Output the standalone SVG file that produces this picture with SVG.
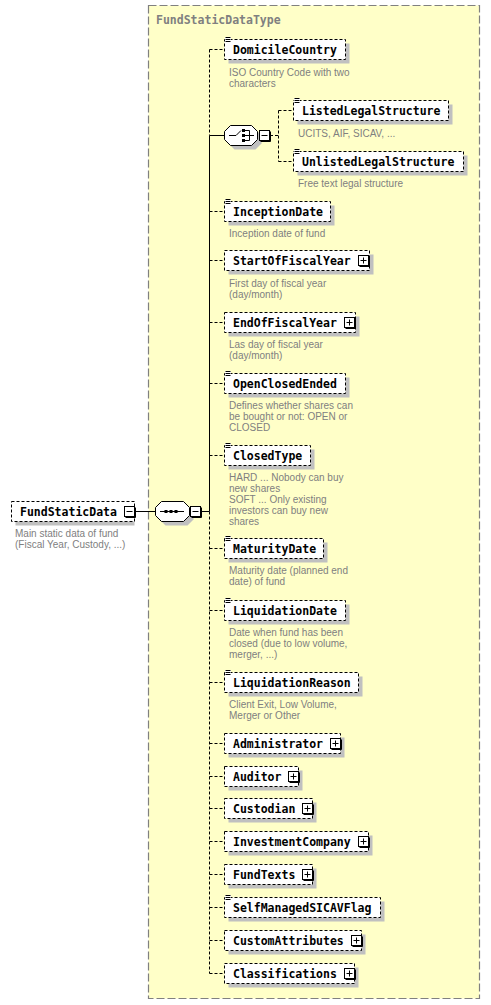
<svg xmlns="http://www.w3.org/2000/svg" width="491" height="1005" viewBox="0 0 491 1005">
<defs>
<style>
.type{fill:#ffffc8;stroke:#808080;stroke-width:1.2;stroke-dasharray:8 3}
.title{font-family:"DejaVu Sans Mono","Liberation Mono",monospace;font-weight:bold;font-size:11.5px;fill:#808080}
.el{fill:#fff;stroke:#000;stroke-width:1;stroke-dasharray:3 2}
.sh{fill:#c0c0c0}
.lbl{font-family:"DejaVu Sans Mono","Liberation Mono",monospace;font-weight:bold;font-size:11.5px;fill:#000}
.desc{font-family:"Liberation Sans",Arial,sans-serif;font-size:10px;fill:#808080}
.btn{fill:#fff;stroke:#000;stroke-width:1}
.sym{stroke:#000;stroke-width:1;fill:none}
.solid{stroke:#000;stroke-width:1;fill:none}
.dash{stroke:#000;stroke-width:1;fill:none;stroke-dasharray:3 2}
.ann{stroke:#000;stroke-width:1}
</style>
<g id="plus">
<rect x="0" y="0" width="10" height="10" class="btn"/>
<path d="M11,1V11H1" class="sym"/>
<path d="M2,5H8M5,2V8" class="sym"/>
</g>
<g id="minus">
<rect x="0" y="0" width="10" height="10" class="btn"/>
<path d="M11,1V11H1" class="sym"/>
<path d="M2,5H8" class="sym"/>
</g>
<g id="annIcon">
<rect x="0" y="-3" width="6" height="6" fill="#fff"/>
<path d="M0.5,-2.5H5.5M0.5,-0.5H5.5M0.5,1.5H5.5" class="ann"/>
</g>
</defs>
<rect x="0" y="0" width="491" height="1005" fill="#fff"/>

<g id="FundStaticDataType">
<rect x="148.5" y="5.5" width="331" height="993" class="type"/>
<text x="156" y="24" class="title">FundStaticDataType</text>
</g>

<g id="connectors">
<line x1="134" y1="511.5" x2="155.5" y2="511.5" class="solid"/>
<line x1="201" y1="511.5" x2="209.5" y2="511.5" class="solid"/>
<line x1="209.5" y1="49.5" x2="209.5" y2="135.5" class="dash"/>
<line x1="209.5" y1="135.5" x2="209.5" y2="511.5" class="solid"/>
<line x1="209.5" y1="511.5" x2="209.5" y2="973.5" class="dash"/>
<line x1="209.5" y1="135.5" x2="224.5" y2="135.5" class="solid"/>
<path class="dash" d="M209.5,49.5H224.5M209.5,211.5H224.5M209.5,260.5H224.5M209.5,322.5H224.5M209.5,383.5H224.5M209.5,455.5H224.5M209.5,548.5H224.5M209.5,610.5H224.5M209.5,682.5H224.5M209.5,743.5H224.5M209.5,776.5H224.5M209.5,808.5H224.5M209.5,841.5H224.5M209.5,874.5H224.5M209.5,907.5H224.5M209.5,940.5H224.5M209.5,973.5H224.5"/>
<path class="dash" d="M270,135.5H278.5M278.5,110.5V161.5M278.5,110.5H293M278.5,161.5H293"/>
</g>

<g id="FundStaticData">
<rect x="15.5" y="505.5" width="119" height="20" class="sh"/>
<rect x="11.5" y="501.5" width="123" height="20" class="el"/>
<text x="20" y="516" class="lbl">FundStaticData</text>
<use href="#minus" x="124.5" y="506.5"/>
<text x="15" y="537" class="desc">Main static data of fund</text>
<text x="15" y="548" class="desc">(Fiscal Year, Custody, ...)</text>
</g>

<g id="sequence">
<polygon points="165.5,505.5 187.5,505.5 193.5,511.5 193.5,519.5 187.5,525.5 165.5,525.5 159.5,519.5 159.5,511.5" class="sh"/>
<polygon points="161.5,501.5 183.5,501.5 189.5,507.5 189.5,515.5 183.5,521.5 161.5,521.5 155.5,515.5 155.5,507.5" fill="#fff" stroke="#000"/>
<line x1="160" y1="511.5" x2="184" y2="511.5" class="sym"/>
<rect x="164.5" y="510" width="3" height="3" fill="#000"/>
<rect x="169.5" y="510" width="3" height="3" fill="#000"/>
<rect x="174.5" y="510" width="3" height="3" fill="#000"/>
<use href="#minus" x="190.5" y="506.5"/>
</g>

<g id="choice">
<polygon points="234.5,129.5 255.5,129.5 261.5,135.5 261.5,143.5 255.5,149.5 234.5,149.5 228.5,143.5 228.5,135.5" class="sh"/>
<polygon points="230.5,125.5 251.5,125.5 257.5,131.5 257.5,139.5 251.5,145.5 230.5,145.5 224.5,139.5 224.5,131.5" fill="#fff" stroke="#000"/>
<path d="M229,135.5H236L241,130.5" class="sym"/>
<rect x="242" y="129" width="3" height="3" fill="#000"/>
<rect x="242" y="134" width="3" height="3" fill="#000"/>
<rect x="242" y="139" width="3" height="3" fill="#000"/>
<path d="M245,130.5H249.5V140.5H245M245,135.5H254" class="sym"/>
<use href="#minus" x="259.5" y="130.5"/>
</g>

<g id="DomicileCountry">
<rect x="228.5" y="43.5" width="121" height="20" class="sh"/>
<rect x="224.5" y="39.5" width="121" height="20" class="el"/>
<use href="#annIcon" x="225" y="40"/>
<text x="233" y="54" class="lbl">DomicileCountry</text>
<text x="229" y="76" class="desc">ISO Country Code with two</text>
<text x="229" y="87" class="desc">characters</text>
</g>

<g id="ListedLegalStructure">
<rect x="297.5" y="104.5" width="155" height="20" class="sh"/>
<rect x="293.5" y="100.5" width="155" height="20" class="el"/>
<use href="#annIcon" x="294" y="101"/>
<text x="302" y="115" class="lbl">ListedLegalStructure</text>
<text x="298" y="137" class="desc">UCITS, AIF, SICAV, ...</text>
</g>

<g id="UnlistedLegalStructure">
<rect x="297.5" y="155.5" width="170" height="20" class="sh"/>
<rect x="293.5" y="151.5" width="170" height="20" class="el"/>
<use href="#annIcon" x="294" y="152"/>
<text x="302" y="166" class="lbl">UnlistedLegalStructure</text>
<text x="298" y="187" class="desc">Free text legal structure</text>
</g>

<g id="InceptionDate">
<rect x="228.5" y="205.5" width="106" height="20" class="sh"/>
<rect x="224.5" y="201.5" width="106" height="20" class="el"/>
<use href="#annIcon" x="225" y="202"/>
<text x="233" y="216" class="lbl">InceptionDate</text>
<text x="229" y="237" class="desc">Inception date of fund</text>
</g>

<g id="StartOfFiscalYear">
<rect x="228.5" y="254.5" width="145" height="20" class="sh"/>
<rect x="224.5" y="250.5" width="145" height="20" class="el"/>
<text x="233" y="265" class="lbl">StartOfFiscalYear</text>
<use href="#plus" x="358.5" y="255.5"/>
<text x="229" y="287" class="desc">First day of fiscal year</text>
<text x="229" y="298" class="desc">(day/month)</text>
</g>

<g id="EndOfFiscalYear">
<rect x="228.5" y="316.5" width="131" height="20" class="sh"/>
<rect x="224.5" y="312.5" width="131" height="20" class="el"/>
<text x="233" y="327" class="lbl">EndOfFiscalYear</text>
<use href="#plus" x="344.5" y="317.5"/>
<text x="229" y="348" class="desc">Las day of fiscal year</text>
<text x="229" y="359" class="desc">(day/month)</text>
</g>

<g id="OpenClosedEnded">
<rect x="228.5" y="377.5" width="121" height="20" class="sh"/>
<rect x="224.5" y="373.5" width="121" height="20" class="el"/>
<use href="#annIcon" x="225" y="374"/>
<text x="233" y="388" class="lbl">OpenClosedEnded</text>
<text x="229" y="409" class="desc">Defines whether shares can</text>
<text x="229" y="420" class="desc">be bought or not: OPEN or</text>
<text x="229" y="431" class="desc">CLOSED</text>
</g>

<g id="ClosedType">
<rect x="228.5" y="449.5" width="86" height="20" class="sh"/>
<rect x="224.5" y="445.5" width="86" height="20" class="el"/>
<use href="#annIcon" x="225" y="446"/>
<text x="233" y="460" class="lbl">ClosedType</text>
<text x="229" y="481" class="desc">HARD ... Nobody can buy</text>
<text x="229" y="492" class="desc">new shares</text>
<text x="229" y="503" class="desc">SOFT ... Only existing</text>
<text x="229" y="514" class="desc">investors can buy new</text>
<text x="229" y="525" class="desc">shares</text>
</g>

<g id="MaturityDate">
<rect x="228.5" y="542.5" width="99" height="20" class="sh"/>
<rect x="224.5" y="538.5" width="99" height="20" class="el"/>
<use href="#annIcon" x="225" y="539"/>
<text x="233" y="553" class="lbl">MaturityDate</text>
<text x="229" y="574" class="desc">Maturity date (planned end</text>
<text x="229" y="585" class="desc">date) of fund</text>
</g>

<g id="LiquidationDate">
<rect x="228.5" y="604.5" width="121" height="20" class="sh"/>
<rect x="224.5" y="600.5" width="121" height="20" class="el"/>
<use href="#annIcon" x="225" y="601"/>
<text x="233" y="615" class="lbl">LiquidationDate</text>
<text x="229" y="636" class="desc">Date when fund has been</text>
<text x="229" y="647" class="desc">closed (due to low volume,</text>
<text x="229" y="658" class="desc">merger, ...)</text>
</g>

<g id="LiquidationReason">
<rect x="228.5" y="676.5" width="134" height="20" class="sh"/>
<rect x="224.5" y="672.5" width="134" height="20" class="el"/>
<use href="#annIcon" x="225" y="673"/>
<text x="233" y="687" class="lbl">LiquidationReason</text>
<text x="229" y="708" class="desc">Client Exit, Low Volume,</text>
<text x="229" y="719" class="desc">Merger or Other</text>
</g>

<g id="Administrator">
<rect x="228.5" y="737.5" width="116" height="20" class="sh"/>
<rect x="224.5" y="733.5" width="116" height="20" class="el"/>
<text x="233" y="748" class="lbl">Administrator</text>
<use href="#plus" x="330.5" y="738.5"/>
</g>

<g id="Auditor">
<rect x="228.5" y="770.5" width="74" height="20" class="sh"/>
<rect x="224.5" y="766.5" width="74" height="20" class="el"/>
<text x="233" y="781" class="lbl">Auditor</text>
<use href="#plus" x="288.5" y="771.5"/>
</g>

<g id="Custodian">
<rect x="228.5" y="802.5" width="88" height="20" class="sh"/>
<rect x="224.5" y="798.5" width="88" height="20" class="el"/>
<text x="233" y="813" class="lbl">Custodian</text>
<use href="#plus" x="302.5" y="803.5"/>
</g>

<g id="InvestmentCompany">
<rect x="228.5" y="835.5" width="144" height="20" class="sh"/>
<rect x="224.5" y="831.5" width="144" height="20" class="el"/>
<text x="233" y="846" class="lbl">InvestmentCompany</text>
<use href="#plus" x="358.5" y="836.5"/>
</g>

<g id="FundTexts">
<rect x="228.5" y="868.5" width="88" height="20" class="sh"/>
<rect x="224.5" y="864.5" width="88" height="20" class="el"/>
<text x="233" y="879" class="lbl">FundTexts</text>
<use href="#plus" x="302.5" y="869.5"/>
</g>

<g id="SelfManagedSICAVFlag">
<rect x="228.5" y="901.5" width="156" height="20" class="sh"/>
<rect x="224.5" y="897.5" width="156" height="20" class="el"/>
<use href="#annIcon" x="225" y="898"/>
<text x="233" y="912" class="lbl">SelfManagedSICAVFlag</text>
</g>

<g id="CustomAttributes">
<rect x="228.5" y="934.5" width="137" height="20" class="sh"/>
<rect x="224.5" y="930.5" width="137" height="20" class="el"/>
<text x="233" y="945" class="lbl">CustomAttributes</text>
<use href="#plus" x="351.5" y="935.5"/>
</g>

<g id="Classifications">
<rect x="228.5" y="967.5" width="130" height="20" class="sh"/>
<rect x="224.5" y="963.5" width="130" height="20" class="el"/>
<text x="233" y="978" class="lbl">Classifications</text>
<use href="#plus" x="344.5" y="968.5"/>
</g>
</svg>
